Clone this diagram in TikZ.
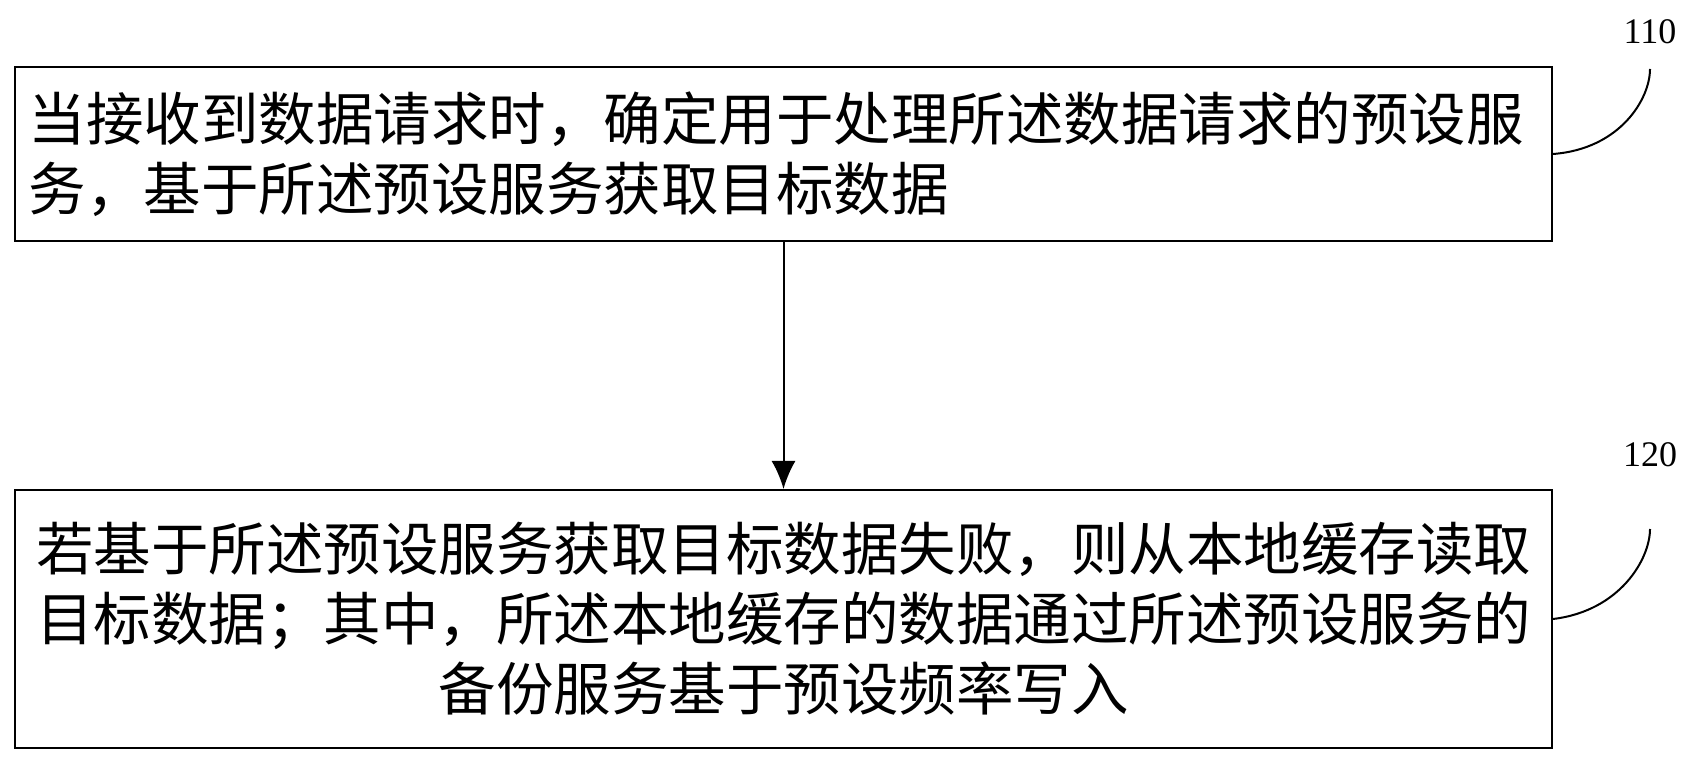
\documentclass[tikz,border=0pt]{standalone}
\usepackage{fontspec}
\usetikzlibrary{arrows.meta}
\setmainfont{Liberation Serif}
\newfontfamily\cjk{Noto Sans CJK SC}
\begin{document}
\begin{tikzpicture}[x=1pt,y=1pt,
  box/.style={draw,line width=2pt,minimum width=1537pt,inner sep=0pt,font=\cjk\fontsize{57.5}{70}\selectfont},
  lab/.style={font=\fontsize{36}{40}\selectfont}]
\useasboundingbox (0,0) rectangle (1699,759);
\node[box,minimum height=174pt,align=left,text width=1510pt] (b1) at (783.5,605) {当接收到数据请求时，确定用于处理所述数据请求的预设服\\务，基于所述预设服务获取目标数据};
\node[box,minimum height=258pt,align=center,text width=1520pt] (b2) at (783.5,140) {若基于所述预设服务获取目标数据失败，则从本地缓存读取\\目标数据；其中，所述本地缓存的数据通过所述预设服务的\\备份服务基于预设频率写入};
\draw[line width=2pt,-{Latex[length=28pt,width=24pt]}] (b1.south) -- (b2.north);
\node[lab] (l1) at (1650,727) {110};
\node[lab] (l2) at (1650,304) {120};
\coordinate (c1) at (1650,690);
\coordinate (c2) at (1650,230);
\draw[line width=2pt] (b1.east) .. controls (1620,610) and (1650,660) .. (c1);
\draw[line width=2pt] (b2.east) .. controls (1620,148) and (1650,200) .. (c2);
\end{tikzpicture}
\end{document}
